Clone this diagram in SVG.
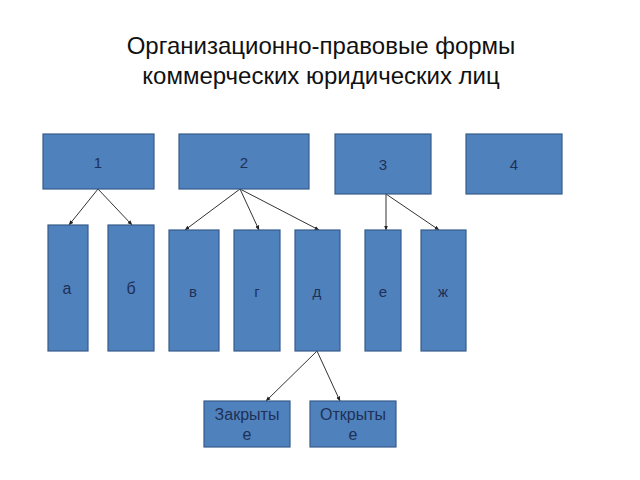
<svg xmlns="http://www.w3.org/2000/svg" width="640" height="480" viewBox="0 0 640 480">
<defs>
<style>
.box{fill:#4F81BD;stroke:#385D8A;stroke-width:1.2}
.lbl{font-family:"Liberation Sans",Arial,sans-serif;fill:#1F3056;text-anchor:middle}
.num{font-size:15px}
.let{font-size:16px}
.title{font-family:"Liberation Sans",Arial,sans-serif;font-size:24px;fill:#111;text-anchor:middle}
.con{stroke:#333;stroke-width:1;fill:none;marker-end:url(#arr)}
</style>
<marker id="arr" viewBox="0 0 10 10" refX="9" refY="5" markerWidth="5" markerHeight="5" orient="auto">
<path d="M0,1 L10,5 L0,9 Z" fill="#222"/>
</marker>
</defs>
<rect width="640" height="480" fill="#fff"/>
<text class="title" x="321" y="54">Организационно-правовые формы</text>
<text class="title" x="321" y="84">коммерческих юридических лиц</text>
<g id="connectors">
<line class="con" x1="98" y1="189" x2="69" y2="225"/>
<line class="con" x1="98" y1="189" x2="132" y2="225"/>
<line class="con" x1="240" y1="189" x2="185" y2="230"/>
<line class="con" x1="240" y1="189" x2="259" y2="230"/>
<line class="con" x1="240" y1="189" x2="319" y2="230"/>
<line class="con" x1="386" y1="194" x2="386" y2="230"/>
<line class="con" x1="386" y1="194" x2="439" y2="230"/>
<line class="con" x1="317" y1="351" x2="266" y2="401"/>
<line class="con" x1="317" y1="351" x2="340" y2="401"/>
</g>
<g id="n1"><rect class="box" x="43" y="134" width="111" height="55"/><text class="lbl num" x="98" y="168">1</text></g>
<g id="n2"><rect class="box" x="179" y="134" width="130" height="55"/><text class="lbl num" x="244" y="168">2</text></g>
<g id="n3"><rect class="box" x="335" y="134" width="96" height="60"/><text class="lbl num" x="383" y="170">3</text></g>
<g id="n4"><rect class="box" x="466" y="134" width="96" height="60"/><text class="lbl num" x="514" y="170">4</text></g>
<g id="na"><rect class="box" x="48" y="225" width="40" height="126"/><text class="lbl let" x="67" y="294">а</text></g>
<g id="nb"><rect class="box" x="108" y="225" width="46" height="126"/><text class="lbl let" x="131" y="294">б</text></g>
<g id="nv"><rect class="box" x="169" y="230" width="50" height="121"/><text class="lbl num" x="193" y="297">в</text></g>
<g id="ng"><rect class="box" x="234" y="230" width="46" height="121"/><text class="lbl num" x="257" y="297">г</text></g>
<g id="nd"><rect class="box" x="295" y="230" width="45" height="121"/><text class="lbl num" x="317" y="297">д</text></g>
<g id="ne"><rect class="box" x="365" y="230" width="36" height="121"/><text class="lbl num" x="383" y="297">е</text></g>
<g id="nzh"><rect class="box" x="421" y="230" width="45" height="121"/><text class="lbl num" x="443" y="297">ж</text></g>
<g id="nclosed"><rect class="box" x="204" y="401" width="86" height="46"/><text class="lbl let" x="247" y="420">Закрыты</text><text class="lbl let" x="247" y="440">е</text></g>
<g id="nopen"><rect class="box" x="310" y="401" width="86" height="46"/><text class="lbl let" x="353" y="420">Открыты</text><text class="lbl let" x="353" y="440">е</text></g>
</svg>
